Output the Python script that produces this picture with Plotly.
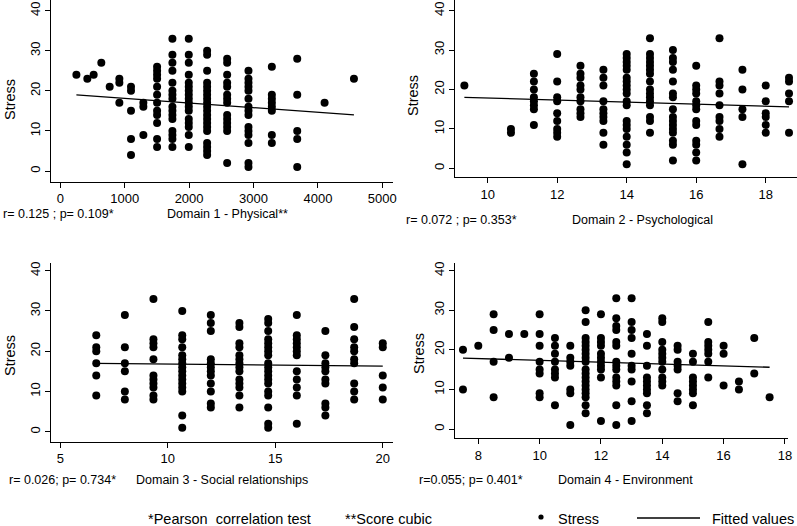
import plotly.graph_objects as go

W, H = 797, 526

# ---------------- DATA ----------------
# Domain 1 - Physical (score cubic): x column values and the Stress values stacked on each
phys_x = [250, 420, 518, 637, 767, 917, 1098, 1290, 1503, 1741, 1995, 2280, 2591, 2922, 3285, 3679, 4104, 4560]
phys_y = [
    [24], [23], [24], [27], [21], [23, 22, 17],
    [21, 20, 15, 8, 4],
    [17, 16, 9],
    [26, 25, 24, 23, 21, 19, 17, 15, 14, 12, 8, 6],
    [33, 29, 27, 25, 22, 20, 19, 18, 16, 15, 14, 13, 10, 9, 8, 6],
    [33, 29, 27, 24, 22, 21, 20, 19, 18, 17, 16, 15, 13, 12, 11, 9, 6],
    [30, 29, 25, 22, 21, 20, 19, 18, 17, 16, 15, 14, 13, 12, 11, 10, 7, 6, 5, 4],
    [28, 27, 24, 22, 21, 19, 18, 17, 14, 13, 12, 11, 10, 2],
    [25, 23, 22, 21, 20, 18, 16, 15, 14, 11, 10, 9, 7, 2, 1],
    [26, 19, 18, 17, 16, 15, 9, 7],
    [28, 19, 10, 8, 1],
    [17],
    [23],
]
phys_fit_x = [250, 4560]
phys_fit_y = [19.0, 14.0]

# Domain 2 - Psychological
psy_x = [9.33, 10.67, 11.33, 12.0, 12.67, 13.33, 14.0, 14.67, 15.33, 16.0, 16.67, 17.33, 18.0, 18.67]
psy_y = [
    [21],
    [10, 9],
    [24, 22, 20, 18, 17, 16, 15, 11],
    [29, 22, 18, 17, 14, 12, 10, 9, 8],
    [26, 24, 23, 21, 20, 18, 17, 15, 14, 13],
    [25, 23, 21, 17, 15, 14, 13, 12, 9, 6],
    [29, 28, 27, 26, 25, 23, 22, 21, 20, 19, 17, 16, 12, 11, 10, 8, 6, 4, 1],
    [33, 29, 28, 27, 26, 25, 24, 22, 20, 19, 18, 17, 16, 13, 12, 9],
    [30, 28, 27, 25, 22, 19, 18, 15, 13, 12, 11, 10, 9, 7, 6, 2],
    [26, 21, 20, 19, 17, 16, 15, 12, 11, 7, 6, 4, 2],
    [33, 22, 21, 19, 16, 13, 12, 10, 8],
    [25, 20, 15, 13, 1],
    [21, 17, 14, 13, 11, 9],
    [23, 22, 19, 17, 9],
]
psy_fit_x = [9.33, 18.67]
psy_fit_y = [18.0, 15.6]

# Domain 3 - Social relationships
soc_x = [6.67, 8.0, 9.33, 10.67, 12.0, 13.33, 14.67, 16.0, 17.33, 18.67, 20.0]
soc_y = [
    [24, 21, 20, 17, 14, 9],
    [29, 21, 17, 15, 10, 8],
    [33, 23, 22, 21, 18, 14, 13, 12, 11, 9, 8],
    [30, 24, 23, 21, 19, 18, 17, 16, 15, 14, 13, 12, 11, 10, 4, 1],
    [29, 27, 25, 18, 17, 16, 15, 14, 12, 10, 7, 6],
    [27, 26, 22, 21, 19, 18, 17, 16, 15, 13, 12, 11, 9, 6],
    [28, 27, 25, 23, 22, 21, 20, 19, 17, 16, 15, 14, 13, 12, 10, 9, 6, 2, 1],
    [29, 24, 23, 22, 21, 20, 19, 15, 13, 11, 9, 2],
    [25, 19, 17, 16, 15, 13, 12, 7, 6, 4],
    [33, 26, 23, 21, 20, 18, 17, 12, 10, 8],
    [22, 21, 14, 11, 8],
]
soc_fit_x = [6.67, 20.0]
soc_fit_y = [17.0, 16.3]

# Domain 4 - Environment
env_x = [7.5, 8.0, 8.5, 9.0, 9.5, 10.0, 10.5, 11.0, 11.5, 12.0, 12.5, 13.0, 13.5, 14.0, 14.5, 15.0, 15.5, 16.0, 16.5, 17.0, 17.5]
env_y = [
    [20, 10],
    [21],
    [29, 25, 17, 8],
    [24, 18],
    [24],
    [29, 24, 21, 17, 15, 14, 9, 8],
    [23, 21, 19, 17, 15, 14, 13, 6],
    [21, 18, 17, 16, 10, 9, 1],
    [30, 27, 23, 22, 21, 20, 19, 18, 17, 15, 14, 13, 12, 11, 10, 9, 8, 6, 4],
    [29, 23, 22, 21, 19, 18, 17, 16, 15, 13, 2],
    [33, 28, 26, 25, 22, 21, 17, 16, 15, 13, 12, 11, 6, 1],
    [33, 27, 25, 23, 19, 16, 15, 12, 7, 2],
    [24, 21, 16, 13, 12, 11, 10, 9, 6, 4],
    [28, 27, 22, 20, 19, 18, 17, 15, 13, 12, 11],
    [21, 20, 17, 16, 15, 9, 7],
    [19, 17, 13, 12, 11, 10, 9, 6],
    [27, 22, 21, 20, 19, 17, 13],
    [21, 19, 11],
    [12, 10],
    [23, 14],
    [8],
]
env_fit_x = [7.5, 17.5]
env_fit_y = [17.9, 15.6]

y_ticks = [0, 10, 20, 30, 40]
x_ticks = [
    [0, 1000, 2000, 3000, 4000, 5000],
    [10, 12, 14, 16, 18],
    [5, 10, 15, 20],
    [8, 10, 12, 14, 16, 18],
]
x_titles = ["Domain 1 - Physical**", "Domain 2 - Psychological",
            "Domain 3 - Social relationships", "Domain 4 - Environment"]
stat_texts = ["r= 0.125 ; p= 0.109*", "r= 0.072 ; p= 0.353*",
              "r= 0.026; p= 0.734*", "r=0.055; p= 0.401*"]
y_title = "Stress"
notes = ["*Pearson  correlation test", "**Score cubic"]
legend_labels = ["Stress", "Fitted values"]

# ---------------- LAYOUT (pixel geometry) ----------------
FONT = "Liberation Sans, Arial, Helvetica, sans-serif"

def px_x(p):
    return p / W

def px_y(p):
    return 1 - p / H

panels = [
    dict(xpx=(50.7, 393.3), ypx=(0, 181.7), xr=[-149, 5171], yr=[-2.67, 42.66]),
    dict(xpx=(455, 797), ypx=(0, 177.3), xr=[9.06, 18.90], yr=[-2.28, 42.7]),
    dict(xpx=(50.7, 393.3), ypx=(262.7, 441.7), xr=[4.55, 20.49], yr=[-2.48, 42.0]),
    dict(xpx=(455, 788.3), ypx=(262.7, 438.3), xr=[7.24, 18.11], yr=[-2.35, 42.0]),
]

datasets = [
    (phys_x, phys_y, phys_fit_x, phys_fit_y),
    (psy_x, psy_y, psy_fit_x, psy_fit_y),
    (soc_x, soc_y, soc_fit_x, soc_fit_y),
    (env_x, env_y, env_fit_x, env_fit_y),
]

fig = go.Figure()
layout = dict(
    width=W, height=H, autosize=False,
    margin=dict(l=0, r=0, t=0, b=0, pad=0),
    paper_bgcolor="white", plot_bgcolor="white",
    template="none", showlegend=False,
    font=dict(family=FONT, color="black", size=13),
)

for i, ((xs, ys, fx, fy), pnl) in enumerate(zip(datasets, panels)):
    k = "" if i == 0 else str(i + 1)
    px_pts, py_pts = [], []
    for xv, col in zip(xs, ys):
        for yv in col:
            px_pts.append(xv)
            py_pts.append(yv)
    fig.add_trace(go.Scatter(
        x=px_pts, y=py_pts, mode="markers", name=legend_labels[0],
        marker=dict(color="black", size=8, line=dict(width=0)),
        xaxis="x" + k, yaxis="y" + k, cliponaxis=False,
    ))
    fig.add_trace(go.Scatter(
        x=fx, y=fy, mode="lines", name=legend_labels[1],
        line=dict(color="black", width=1.3),
        xaxis="x" + k, yaxis="y" + k,
    ))
    axcommon = dict(showline=True, linecolor="black", linewidth=1, ticks="outside",
                    ticklen=5, tickwidth=1, tickcolor="black", showgrid=False,
                    zeroline=False, automargin=False, mirror=False,
                    tickfont=dict(family=FONT, size=13, color="black"))
    layout["xaxis" + k] = dict(
        axcommon, domain=[px_x(pnl["xpx"][0]), px_x(pnl["xpx"][1])],
        range=pnl["xr"], anchor="y" + k, tickvals=x_ticks[i],
        ticktext=[str(v) for v in x_ticks[i]],
    )
    layout["yaxis" + k] = dict(
        axcommon, domain=[px_y(pnl["ypx"][1]), px_y(pnl["ypx"][0])],
        range=pnl["yr"], anchor="x" + k, tickvals=y_ticks, tickangle=-90,
    )

ann = []
title_pos = [(1, 227, 214), (404, 642, 220), (7, 222, 480), (417, 625, 480)]
for i, (sx, tx, ty) in enumerate(title_pos):
    ann.append(dict(text=stat_texts[i], x=px_x(sx), y=px_y(ty), xref="paper", yref="paper",
                    xanchor="left", yanchor="middle", showarrow=False,
                    font=dict(size=12.5, family=FONT)))
    ann.append(dict(text=x_titles[i], x=px_x(tx), y=px_y(ty), xref="paper", yref="paper",
                    xanchor="center", yanchor="middle", showarrow=False,
                    font=dict(size=12.5, family=FONT)))
ytitle_pos = [(10, 100), (413, 96), (10, 356), (419, 353)]
for (yx, yy) in ytitle_pos:
    ann.append(dict(text=y_title, x=px_x(yx), y=px_y(yy), xref="paper", yref="paper",
                    xanchor="center", yanchor="middle", textangle=-90, showarrow=False,
                    font=dict(size=14.5, family=FONT)))

# footnotes and key along the bottom
LEG_Y = 519
LEG_FONT = dict(size=14.5, family=FONT, color="black")
ann.append(dict(text=notes[0], x=px_x(146), y=px_y(LEG_Y), xref="paper", yref="paper",
                xanchor="left", yanchor="middle", showarrow=False, font=LEG_FONT))
ann.append(dict(text=notes[1], x=px_x(343), y=px_y(LEG_Y), xref="paper", yref="paper",
                xanchor="left", yanchor="middle", showarrow=False, font=LEG_FONT))
ann.append(dict(text=legend_labels[0], x=px_x(556), y=px_y(LEG_Y), xref="paper", yref="paper",
                xanchor="left", yanchor="middle", showarrow=False, font=LEG_FONT))
ann.append(dict(text=legend_labels[1], x=px_x(710), y=px_y(LEG_Y), xref="paper", yref="paper",
                xanchor="left", yanchor="middle", showarrow=False, font=LEG_FONT))
layout["annotations"] = ann

r = 2.6
layout["shapes"] = [
    dict(type="circle", xref="paper", yref="paper",
         x0=px_x(541 - r), x1=px_x(541 + r), y0=px_y(LEG_Y - 2 + r), y1=px_y(LEG_Y - 2 - r),
         fillcolor="black", line=dict(width=0)),
    dict(type="line", xref="paper", yref="paper",
         x0=px_x(637), x1=px_x(700), y0=px_y(LEG_Y - 1), y1=px_y(LEG_Y - 1),
         line=dict(color="black", width=1.3)),
]

fig.update_layout(**layout)
fig.write_html(
    "out.html",
    config={"displayModeBar": False, "staticPlot": True},
    post_script="document.body.style.margin='0';document.body.style.padding='0';"
                "document.documentElement.style.overflow='hidden';",
)
